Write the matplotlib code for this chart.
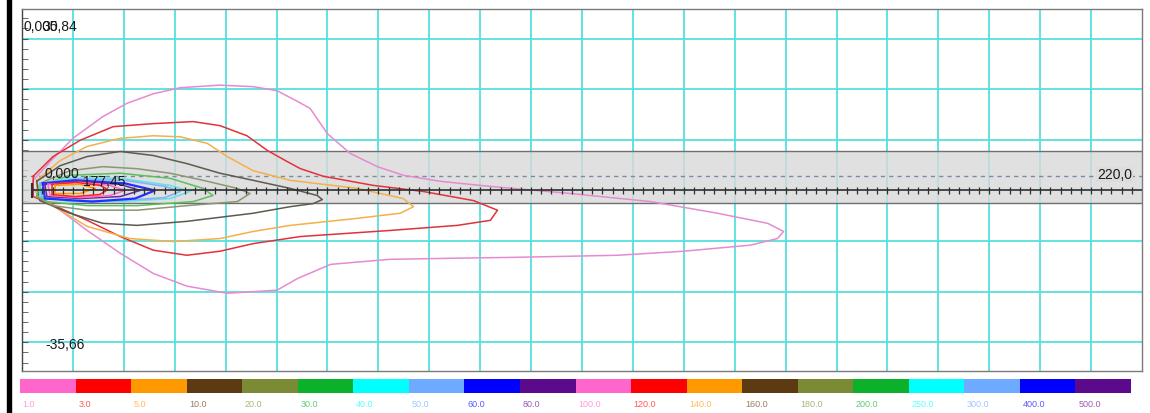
import numpy as np
import matplotlib
matplotlib.use("Agg")
import matplotlib.pyplot as plt
from matplotlib.patches import Rectangle

plt.rcParams["font.family"] = ["Liberation Sans", "DejaVu Sans"]

# ── Data ─────────────────────────────────────────────────────────────────────
X_MIN, X_MAX = 0.0, 220.0
Y_MIN, Y_MAX = -35.66, 35.84
BAND_TOP, BAND_BOTTOM = 7.8, -2.4
CENTRE_Y = 2.8

LEVELS = [1.0, 3.0, 5.0, 10.0, 20.0, 30.0, 40.0, 50.0, 60.0, 80.0,
          100.0, 120.0, 140.0, 160.0, 180.0, 200.0, 250.0, 300.0, 400.0, 500.0]
LEVEL_COLOURS = ["#ff66cc", "#ff0000", "#ff9900", "#5c3a12", "#7b8a35",
                 "#0cb02a", "#00ffff", "#6eaaff", "#0000ff", "#5c0a8c"] * 2

# contour outlines (x, y)
C1_X = [2.2, 6.1, 10.0, 15.9, 20.6, 25.8, 31.1, 38.9, 45.4, 50.1, 54.1, 56.6, 60.0,
        64.5, 69.8, 74.9, 82.2, 92.0, 107.7, 123.5, 136.6, 146.5, 149.6, 148.4,
        143.1, 130.0, 117.0, 97.3, 84.1, 72.3, 60.6, 54.1, 50.1, 40.3, 32.4, 25.8,
        19.3, 12.8, 7.5, 3.5, 2.2]
C1_Y = [2.0, 6.3, 10.3, 14.6, 17.2, 19.1, 20.3, 20.8, 20.5, 19.7, 17.6, 16.2, 11.2,
        7.3, 4.7, 3.0, 1.8, 0.8, -0.6, -2.2, -4.5, -6.5, -8.1, -9.5,
        -10.8, -12.0, -12.8, -13.2, -13.4, -13.6, -14.6, -17.4, -19.7, -20.3, -18.9, -16.4,
        -12.4, -7.9, -3.9, -1.2, 0.4]

C3_X = [2.2, 6.1, 11.4, 17.9, 25.8, 33.6, 38.9, 44.2, 48.2, 52.1, 54.7, 59.2, 69.0,
        78.8, 88.7, 93.4, 92.0, 85.5, 72.3, 54.7, 45.4, 38.9, 32.4, 25.8, 19.3,
        12.8, 7.5, 2.2]
C3_Y = [2.8, 6.7, 9.9, 12.6, 13.2, 13.6, 12.8, 10.8, 7.9, 5.7, 4.3, 2.8, 1.0,
        -0.2, -2.0, -3.9, -5.9, -6.9, -7.9, -9.1, -10.5, -12.0, -12.8, -11.8, -9.1,
        -5.9, -3.5, -1.2]

C5_X = [2.9, 7.5, 12.8, 19.3, 25.8, 31.1, 36.4, 40.3, 45.4, 52.7, 65.9, 74.9, 76.9,
        74.3, 65.9, 52.7, 45.4, 38.9, 29.7, 21.2, 12.8, 7.5, 2.9]
C5_Y = [2.0, 5.9, 8.7, 10.3, 10.8, 10.6, 9.3, 6.7, 3.9, 2.0, 0.4, -1.6, -3.2,
        -4.5, -5.5, -6.9, -8.1, -9.5, -10.1, -9.5, -7.1, -3.9, -1.2]

C10_X = [2.9, 7.5, 12.8, 19.3, 25.8, 32.4, 38.9, 45.4, 52.7, 58.0, 59.0, 57.2, 52.7,
         45.4, 32.4, 22.6, 15.9, 9.4, 3.5]
C10_Y = [1.8, 4.9, 6.7, 7.7, 6.9, 5.3, 3.4, 2.0, 0.4, -1.0, -1.8, -2.6, -3.2,
         -4.5, -6.1, -6.9, -6.5, -4.5, -2.0]

C20_X = [3.5, 9.4, 15.9, 22.6, 29.1, 35.6, 42.3, 44.8, 42.3, 32.4, 22.6, 12.8, 6.1, 2.9]
C20_Y = [1.4, 3.9, 4.7, 4.3, 3.4, 2.0, 0.4, -0.6, -2.2, -3.0, -3.9, -3.9, -3.0, -1.2]

C30_X = [3.5, 9.4, 19.3, 29.1, 35.6, 37.5, 33.6, 22.6, 12.8, 4.9, 2.9]
C30_Y = [1.0, 3.0, 3.4, 2.4, 0.4, -1.0, -2.2, -3.0, -3.0, -2.2, -1.0]

C40_X = [3.5, 9.4, 19.3, 29.1, 33.0, 29.1, 19.3, 9.4, 3.5]
C40_Y = [1.4, 2.4, 2.4, 1.0, -0.2, -1.6, -2.2, -2.2, -1.2]

C50_X = [3.5, 10.4, 20.2, 28.1, 31.1, 28.1, 19.3, 9.4, 3.9]
C50_Y = [1.4, 2.2, 2.0, 0.8, -0.2, -1.4, -2.0, -2.0, -1.2]

C60_X = [4.1, 10.4, 20.2, 26.1, 22.2, 13.8, 4.5]
C60_Y = [1.4, 2.0, 1.4, 0.0, -1.6, -2.2, -1.6]

C80_X = [4.5, 11.4, 19.3, 23.2, 19.3, 11.4, 4.9]
C80_Y = [1.2, 1.8, 1.2, 0.0, -1.2, -1.6, -1.2]

C100_X = [5.1, 11.4, 17.3, 20.2, 17.3, 11.4, 5.5]
C100_Y = [1.2, 1.6, 1.0, 0.0, -1.0, -1.4, -1.0]

C120_X = [5.9, 10.4, 15.3, 16.9, 15.3, 10.4, 5.9]
C120_Y = [1.2, 1.6, 1.0, 0.2, -0.8, -1.2, -0.8]

C140_X = [6.5, 11.4, 14.4, 11.4, 6.5]
C140_Y = [1.0, 1.2, 0.4, -0.6, -0.6]

CONTOURS = [(1.0, C1_X, C1_Y), (3.0, C3_X, C3_Y), (5.0, C5_X, C5_Y),
            (10.0, C10_X, C10_Y), (20.0, C20_X, C20_Y), (30.0, C30_X, C30_Y),
            (40.0, C40_X, C40_Y), (50.0, C50_X, C50_Y), (60.0, C60_X, C60_Y),
            (80.0, C80_X, C80_Y), (100.0, C100_X, C100_Y),
            (120.0, C120_X, C120_Y), (140.0, C140_X, C140_Y)]

LINE_COLOURS = {1.0: "#e68bd0", 3.0: "#e2323a", 5.0: "#f4b04a", 10.0: "#5f5a50",
                20.0: "#8c9670", 30.0: "#5cbf5c", 40.0: "#5fe3e3", 50.0: "#80b0ff",
                60.0: "#2030ff", 80.0: "#6a2a9a", 100.0: "#ff66cc",
                120.0: "#ff2020", 140.0: "#ff9900"}

# ── Figure ───────────────────────────────────────────────────────────────────
fig = plt.figure(figsize=(11.5, 4.14), dpi=100)
ax = fig.add_axes([22/1150, 42/414, 1120/1150, 362/414])
ax.set_xlim(X_MIN, X_MAX)
ax.set_ylim(Y_MIN, Y_MAX)

# grid
ax.set_xticks(np.arange(10, 220, 10))
ax.set_yticks(np.arange(-30, 40, 10))
ax.set_yticks(np.arange(-34, 36, 2), minor=True)
ax.grid(True, color="#55e0e0", linewidth=1.3, zorder=0)
ax.tick_params(axis="x", length=0, labelbottom=False)
ax.tick_params(axis="y", which="both", direction="in", length=4,
               color="#555555", labelleft=False)
for sp in ax.spines.values():
    sp.set_color("#7a7a7a")
    sp.set_linewidth(1.0)
ax.spines["left"].set_color("#444444")
ax.set_axisbelow(True)

# road band
ax.axhspan(BAND_BOTTOM, BAND_TOP, facecolor="#d9d9d9", alpha=0.8,
           edgecolor="none", zorder=1)
ax.axhline(BAND_TOP, color="#6f6f6f", linewidth=1.0, zorder=2)
ax.axhline(BAND_BOTTOM, color="#6f6f6f", linewidth=1.0, zorder=2)
ax.axhline(CENTRE_Y, color="#7a8aa0", linewidth=1.0, linestyle=(0, (3, 3)), zorder=2)

# receptor line with ticks
ax.plot([2.0, X_MAX], [0, 0], color="#303030", linewidth=1.2, zorder=4)
tick_x = np.arange(2, 220, 2)
ax.vlines(tick_x, -0.7, 0.7, color="#303030", linewidth=0.9, zorder=4)
ax.vlines([2.0], -1.4, 1.4, color="#303030", linewidth=1.5, zorder=4)

# contours
for lvl, xs, ys in CONTOURS:
    xs = list(xs) + [xs[0]]
    ys = list(ys) + [ys[0]]
    lw = 1.6 if lvl == 60.0 else 1.1
    ax.plot(xs, ys, color=LINE_COLOURS[lvl], linewidth=lw, zorder=3)

# labels
txt = dict(fontsize=10, color="#1a1a1a", zorder=6)
ax.text(0.2, 32.5, "0,000", va="center", ha="left", **txt)
ax.text(4.0, 32.5, "35,84", va="center", ha="left", **txt)
ax.text(4.5, -30.4, "-35,66", va="center", ha="left", **txt)
ax.text(4.5, 3.4, "0,000", va="center", ha="left", **txt)
ax.text(12.0, 1.8, "177,45", va="center", ha="left", **txt)
ax.text(218.0, 3.2, "220,0", va="center", ha="right",
        bbox=dict(facecolor="#dcdcdc", edgecolor="none", pad=0.5), **txt)

# colour legend bar
cax = fig.add_axes([20/1150, 20/414, 1111/1150, 14/414])
pos = np.arange(len(LEVELS))
cax.bar(pos, np.ones(len(LEVELS)), width=1.0, align="edge",
        color=LEVEL_COLOURS, edgecolor="none")
cax.set_xlim(0, len(LEVELS))
cax.set_ylim(0, 1)
cax.axis("off")
for i, (lvl, col) in enumerate(zip(LEVELS, LEVEL_COLOURS)):
    cax.text(i + 0.05, -0.45, f"{lvl:.1f}", color=col, alpha=0.65,
             fontsize=6.5, ha="left", va="top", transform=cax.transData)

# window border on the left
fig.add_artist(Rectangle((7/1150, 0), 4/1150, 1, transform=fig.transFigure,
                         color="black"))

fig.savefig("out.png", dpi=100, facecolor="white")
